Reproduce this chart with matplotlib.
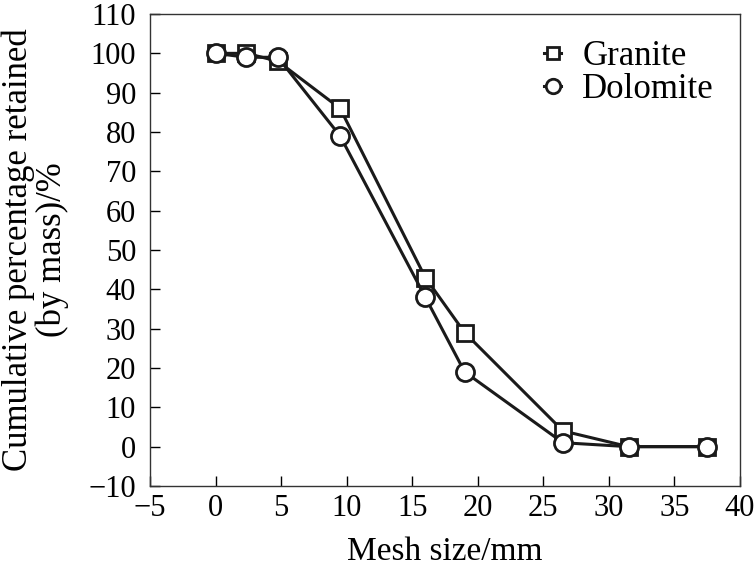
import matplotlib
matplotlib.use('Agg')
import matplotlib.pyplot as plt

plt.rcParams['font.family'] = 'serif'
plt.rcParams['font.serif'] = ['Liberation Serif', 'DejaVu Serif']
plt.rcParams['mathtext.fontset'] = 'stix'

mesh = [0, 2.36, 4.75, 9.5, 16, 19, 26.5, 31.5, 37.5]
granite = [100, 100, 98, 86, 43, 29, 4, 0, 0]
dolomite = [100, 99, 99, 79, 38, 19, 1, 0, 0]

xticks = list(range(-5, 41, 5))
yticks = list(range(-10, 111, 10))

fig = plt.figure(figsize=(7.56, 5.7), dpi=100)
ax = fig.add_axes([0.1984, 0.1474, 0.7804, 0.828])

ax.plot(mesh, granite, '-s', color='#1a1a1a', lw=2.2, ms=11.5, mfc='white',
        mec='#1a1a1a', mew=2, label='Granite')
ax.plot(mesh, dolomite, '-o', color='#1a1a1a', lw=2.2, ms=13, mfc='white',
        mec='#1a1a1a', mew=2, label='Dolomite')

ax.set_xlim(-5, 40)
ax.set_ylim(-10, 110)
ax.set_xticks(xticks)
ax.set_yticks(yticks)
ax.set_xticklabels([str(v).replace('-', '\u2212') for v in xticks])
ax.set_yticklabels([str(v).replace('-', '\u2212') for v in yticks])
ax.tick_params(direction='in', length=7, width=1, labelsize=22, top=False, right=False)
ax.tick_params(axis='x', pad=6)
ax.tick_params(axis='y', pad=10)
for s in ax.spines.values():
    s.set_linewidth(1)
    s.set_color('#333333')

ax.set_xlabel('Mesh size/mm', fontsize=24)
ax.xaxis.set_label_coords(0.5, -0.106)
ax.set_ylabel('Cumulative percentage retained\n(by mass)/%', fontsize=25, linespacing=1.0)
ax.yaxis.set_label_coords(-0.138, 0.5)

leg = ax.legend(loc='upper right', frameon=False, fontsize=25, handlelength=0.5,
                handletextpad=0.6, markerscale=0.8, borderaxespad=0.35, labelspacing=0.0)

fig.savefig('out.png', dpi=100)
